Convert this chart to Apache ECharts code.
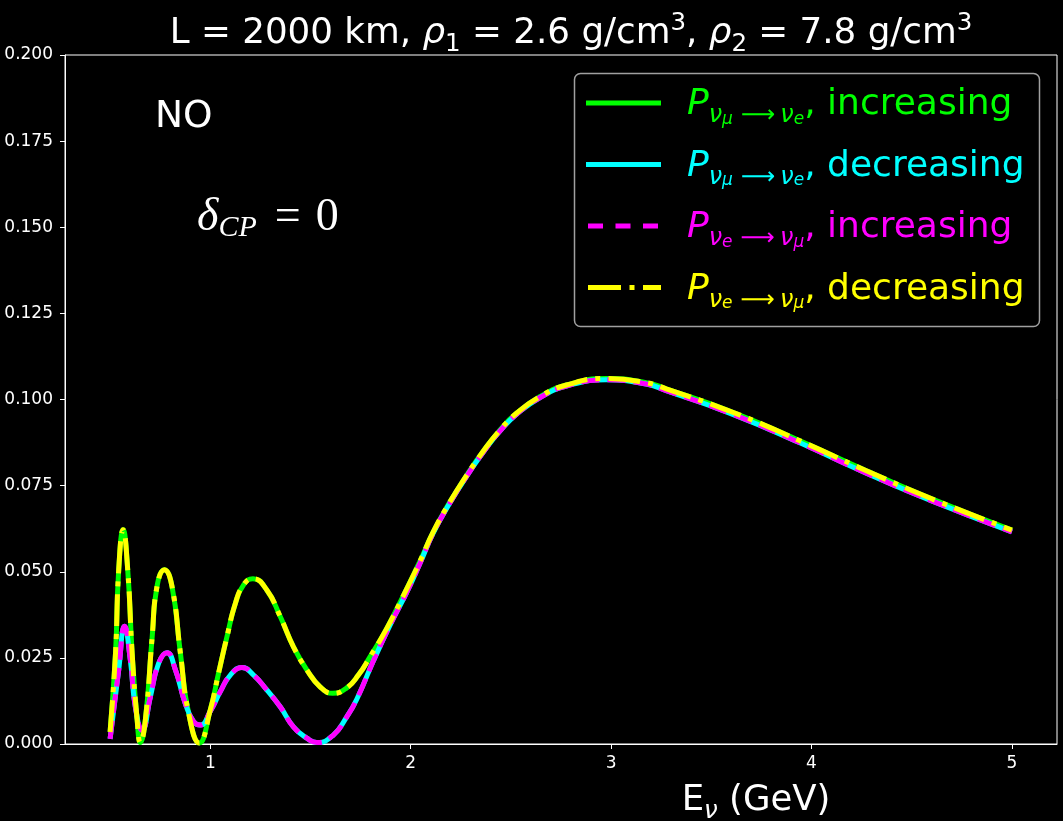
<!DOCTYPE html>
<html>
<head>
<meta charset="utf-8">
<script src="https://cdn.jsdelivr.net/npm/echarts@6/dist/echarts.min.js"></script>
<style>
  html, body { margin: 0; padding: 0; background: #000; }
  #chart { width: 1063px; height: 821px; }
</style>
</head>
<body>
<div id="chart"></div>
<script>
// Oscillation probabilities vs neutrino energy (GeV).
// Curve A: P(nu_mu -> nu_e) with increasing density, which coincides with
//          P(nu_e -> nu_mu) with decreasing density.
const energyA = [0.50, 0.527, 0.543, 0.565, 0.588, 0.61, 0.635, 0.651, 0.676, 0.71,
  0.734, 0.771, 0.809, 0.851, 0.892, 0.945, 1.0, 1.041, 1.083, 1.125, 1.166, 1.213,
  1.282, 1.349, 1.415, 1.482, 1.548, 1.611, 1.681, 1.739, 1.797, 1.880, 1.963, 2.046,
  2.112, 2.196, 2.279, 2.361, 2.445, 2.528, 2.644, 2.777, 2.976, 3.175, 3.275, 3.607,
  3.939, 4.271, 4.603, 5.0];
const probA = [0.0035, 0.0263, 0.0505, 0.0622, 0.0505, 0.0264, 0.0070, 0.0004, 0.0070, 0.0311,
  0.0457, 0.0506, 0.0457, 0.0263, 0.0089, 0.0003, 0.0099, 0.0205, 0.0311, 0.0408, 0.0462, 0.0480,
  0.0447, 0.0370, 0.0282, 0.0215, 0.0166, 0.0147, 0.0163, 0.0200, 0.0253, 0.0335, 0.0430, 0.0530,
  0.0615, 0.0703, 0.0780, 0.0849, 0.0911, 0.0960, 0.1008, 0.1042, 0.1061, 0.1049, 0.1031, 0.0963,
  0.0881, 0.0794, 0.0711, 0.0621];

// Curve B: P(nu_mu -> nu_e) with decreasing density, which coincides with
//          P(nu_e -> nu_mu) with increasing density.
const energyB = [0.50, 0.543, 0.572, 0.601, 0.626, 0.660, 0.701, 0.742, 0.784, 0.826,
  0.875, 0.917, 0.950, 1.0, 1.05, 1.10, 1.158, 1.216, 1.282, 1.349, 1.415, 1.482, 1.531,
  1.614, 1.681, 1.731, 1.813, 1.897, 1.980, 2.046, 2.112, 2.196, 2.279, 2.361, 2.445, 2.528,
  2.644, 2.777, 2.976, 3.175, 3.275, 3.607, 3.939, 4.271, 4.603, 5.0];
const probB = [0.0015, 0.0215, 0.0342, 0.0244, 0.0108, 0.0040, 0.0137, 0.0234, 0.0265, 0.0215,
  0.0118, 0.0065, 0.0055, 0.0095, 0.0152, 0.0200, 0.0222, 0.0200, 0.0157, 0.0108, 0.0050, 0.0017, 0.0004,
  0.0026, 0.0079, 0.0130, 0.0240, 0.0345, 0.0440, 0.0524, 0.0612, 0.0700, 0.0777, 0.0846, 0.0908, 0.0957,
  0.1005, 0.1039, 0.1057, 0.1045, 0.1026, 0.0957, 0.0875, 0.0787, 0.0705, 0.0616];

const xTickValues = [1, 2, 3, 4, 5];
const seriesNames = [
  'P(νμ→νe), increasing',
  'P(νμ→νe), decreasing',
  'P(νe→νμ), increasing',
  'P(νe→νμ), decreasing'
];
const seriesColors = ['#00ff00', '#00ffff', '#ff00ff', '#ffff00'];

const pairs = (xs, ys) => xs.map((x, i) => [x, ys[i]]);
const curveA = pairs(energyA, probA);
const curveB = pairs(energyB, probB);

const DASHED = [18.5, 8];
const DASHDOT = [32, 8, 5, 8];
const SANS = 'DejaVu Sans';
const SERIF = 'Liberation Serif';

function lineSeries(name, data, color, dash) {
  return {
    name: name,
    type: 'line',
    data: data,
    showSymbol: false,
    symbol: 'none',
    smooth: 0.5,
    silent: true,
    lineStyle: { color: color, width: 5, type: dash || 'solid', cap: 'butt' }
  };
}

// legend label pieces: P_{a_b ⟶ c_d}, word
function legendRich(color) {
  return {
    P:  { fill: color, fontFamily: SANS, fontStyle: 'italic', fontSize: 36, lineHeight: 46, verticalAlign: 'middle' },
    n1: { fill: color, fontFamily: SANS, fontStyle: 'italic', fontSize: 24, lineHeight: 28, verticalAlign: 'bottom' },
    n2: { fill: color, fontFamily: SANS, fontStyle: 'italic', fontSize: 17, lineHeight: 17, verticalAlign: 'bottom' },
    ar: { fill: color, fontFamily: SANS, fontSize: 24, lineHeight: 28, verticalAlign: 'bottom', padding: [0, 5, 0, 8] },
    t:  { fill: color, fontFamily: SANS, fontSize: 36, lineHeight: 46, verticalAlign: 'middle' }
  };
}
const legendTexts = [
  '{P|P}{n1|ν}{n2|μ}{ar|⟶}{n1|ν}{n2|e}{t|, increasing}',
  '{P|P}{n1|ν}{n2|μ}{ar|⟶}{n1|ν}{n2|e}{t|, decreasing}',
  '{P|P}{n1|ν}{n2|e}{ar|⟶}{n1|ν}{n2|μ}{t|, increasing}',
  '{P|P}{n1|ν}{n2|e}{ar|⟶}{n1|ν}{n2|μ}{t|, decreasing}'
];
const legendDash = [null, null, [15, 12.5], [33, 8.5, 5, 8.5]];
const legendRowY = [103, 164.5, 226, 287.5];

const legendGraphics = [{
  type: 'rect',
  shape: { x: 574.5, y: 73.5, width: 465, height: 253, r: 6 },
  style: { fill: 'rgba(0,0,0,0.8)', stroke: '#a0a0a0', lineWidth: 1.5 },
  z: 10
}];
seriesNames.forEach((name, i) => {
  legendGraphics.push({
    type: 'line',
    shape: { x1: i < 2 ? 586 : 588, y1: legendRowY[i], x2: 661, y2: legendRowY[i] },
    style: { stroke: seriesColors[i], lineWidth: 5, lineDash: legendDash[i], lineCap: 'butt' },
    z: 11
  });
  legendGraphics.push({
    type: 'text',
    x: 687, y: legendRowY[i] + 2,
    style: { text: legendTexts[i], rich: legendRich(seriesColors[i]), verticalAlign: 'middle', align: 'left' },
    z: 11
  });
});

const chart = echarts.init(document.getElementById('chart'), null, { renderer: 'canvas' });
chart.setOption({
  backgroundColor: '#000',
  animation: false,
  title: {
    text: '{r|L = 2000 km, }{i|ρ}{sb|1}{r| = 2.6 g/cm}{sp|3}{r|, }{i|ρ}{sb|2}{r| = 7.8 g/cm}{sp|3}',
    left: 571,
    top: 11,
    padding: 0,
    textAlign: 'center',
    textStyle: {
      fontWeight: 'normal',
      rich: {
        r:  { color: '#fff', fontFamily: SANS, fontWeight: 'normal', fontSize: 35.7, lineHeight: 46, verticalAlign: 'middle' },
        i:  { color: '#fff', fontFamily: SANS, fontWeight: 'normal', fontStyle: 'italic', fontSize: 35.7, lineHeight: 46, verticalAlign: 'middle' },
        sb: { color: '#fff', fontFamily: SANS, fontWeight: 'normal', fontSize: 24.5, lineHeight: 22, verticalAlign: 'bottom' },
        sp: { color: '#fff', fontFamily: SANS, fontWeight: 'normal', fontSize: 24.5, lineHeight: 24, verticalAlign: 'top' }
      }
    }
  },
  grid: {
    left: 65, right: 6, top: 55, bottom: 77,
    outerBoundsMode: 'none',
    containLabel: false,
    show: true, borderColor: '#ffffff', borderWidth: 1, backgroundColor: 'transparent'
  },
  xAxis: {
    type: 'value',
    min: 0.275,
    max: 5.225,
    splitLine: { show: false },
    axisLine: { show: true, lineStyle: { color: '#fff', width: 1 } },
    axisTick: { show: true, length: 5, lineStyle: { color: '#fff' }, customValues: xTickValues },
    axisLabel: {
      color: '#fff', fontFamily: SANS, fontSize: 17, margin: 11,
      customValues: xTickValues,
      formatter: v => String(v)
    },
    name: '{m|E}{s|ν}{m| (GeV)}',
    nameLocation: 'middle',
    nameGap: 34,
    nameTextStyle: {
      padding: [0, 0, 0, 390],
      rich: {
        m: { color: '#fff', fontFamily: SANS, fontSize: 35.5, lineHeight: 46, verticalAlign: 'middle' },
        s: { color: '#fff', fontFamily: SANS, fontStyle: 'italic', fontSize: 24.5, lineHeight: 22, verticalAlign: 'bottom' }
      }
    }
  },
  yAxis: {
    type: 'value',
    min: 0,
    max: 0.2,
    interval: 0.025,
    splitLine: { show: false },
    axisLine: { show: true, lineStyle: { color: '#fff', width: 1 } },
    axisTick: { show: true, length: 5, lineStyle: { color: '#fff' } },
    axisLabel: {
      color: '#fff', fontFamily: SANS, fontSize: 17, margin: 12,
      formatter: v => v.toFixed(3)
    }
  },
  series: [
    lineSeries(seriesNames[0], curveA, seriesColors[0]),
    lineSeries(seriesNames[1], curveB, seriesColors[1]),
    lineSeries(seriesNames[2], curveB, seriesColors[2], DASHED),
    lineSeries(seriesNames[3], curveA, seriesColors[3], DASHDOT)
  ],
  graphic: legendGraphics.concat([
    {
      type: 'text', x: 155, y: 117,
      style: { text: 'NO', fill: '#fff', fontFamily: SANS, fontSize: 37.5, lineHeight: 40, verticalAlign: 'middle', align: 'left' }
    },
    {
      type: 'text', x: 197, y: 218,
      style: {
        text: '{d|δ}{s|CP}{e|=}{r|0}',
        verticalAlign: 'middle', align: 'left',
        rich: {
          d: { fill: '#fff', fontFamily: SERIF, fontStyle: 'italic', fontSize: 46, lineHeight: 50, verticalAlign: 'middle' },
          s: { fill: '#fff', fontFamily: SERIF, fontStyle: 'italic', fontSize: 30, lineHeight: 22, verticalAlign: 'bottom' },
          e: { fill: '#fff', fontFamily: SERIF, fontSize: 46, lineHeight: 50, verticalAlign: 'middle', padding: [0, 15, 0, 18] },
          r: { fill: '#fff', fontFamily: SERIF, fontSize: 46, lineHeight: 50, verticalAlign: 'middle' }
        }
      }
    }
  ])
});
</script>
</body>
</html>
